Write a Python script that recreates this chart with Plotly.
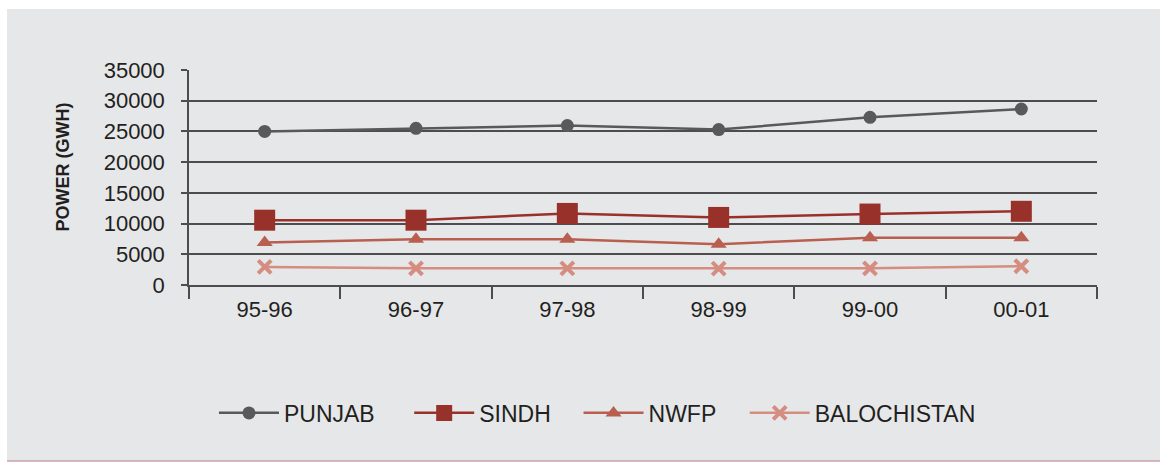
import plotly.graph_objects as go

# Fiscal years
years = ["95-96", "96-97", "97-98", "98-99", "99-00", "00-01"]

# Electricity consumption by province (GWh)
punjab = [25000, 25500, 25950, 25300, 27300, 28650]
sindh = [10550, 10550, 11650, 11000, 11550, 12000]
nwfp = [6900, 7440, 7440, 6650, 7700, 7700]
balochistan = [2950, 2720, 2720, 2680, 2720, 3050]

y_ticks = [0, 5000, 10000, 15000, 20000, 25000, 30000, 35000]

BG = "#e6e7e9"
GRID = "#4d4d4f"
FONT = "Liberation Sans, Arial, Helvetica, sans-serif"

series = [
    ("PUNJAB", punjab, "#58595b", dict(symbol="circle", size=13), 2.5),
    ("SINDH", sindh, "#99312b", dict(symbol="square", size=21), 2.5),
    ("NWFP", nwfp, "#b85f50", dict(symbol="triangle-up", size=14), 2.5),
    ("BALOCHISTAN", balochistan, "#d48d80",
     dict(symbol="x-thin", size=13, line=dict(width=4, color="#d48d80")), 2.5),
]

# one single-entry legend per series so each entry sits at its own spot
legend_ids = ["legend", "legend2", "legend3", "legend4"]
legend_x = [0.0275, 0.2425, 0.4290, 0.6120]

fig = go.Figure()
for (name, vals, color, marker, lw), lid in zip(series, legend_ids):
    m = dict(color=color, **marker)
    fig.add_trace(go.Scatter(
        x=years, y=vals, name=name, mode="lines+markers",
        line=dict(color=color, width=lw), marker=m, legend=lid,
    ))

# Framed grey panel behind the chart
fig.add_shape(type="rect", xref="paper", yref="paper",
              x0=-0.2004, x1=1.07, y0=-0.8186, y1=1.2837,
              fillcolor=BG, line=dict(width=0), layer="below")
fig.add_shape(type="line", xref="paper", yref="paper",
              x0=-0.2004, x1=1.07, y0=-0.8186, y1=-0.8186,
              line=dict(color="#c9a3ab", width=1.5))

fig.add_annotation(text="<b>POWER (GWH)</b>", xref="paper", yref="paper",
                   x=-0.139, y=0.55, textangle=-90, showarrow=False,
                   font=dict(family=FONT, size=18, color="#231f20"),
                   xanchor="center", yanchor="middle")

legend_style = dict(orientation="h", y=-0.595, xanchor="left",
                    yanchor="middle", bgcolor="rgba(0,0,0,0)",
                    font=dict(size=23), itemwidth=60)

fig.update_layout(
    width=1160, height=462,
    margin=dict(l=189, r=63, t=70, b=177),
    paper_bgcolor="white", plot_bgcolor=BG,
    font=dict(family=FONT, size=22, color="#231f20"),
    showlegend=True,
    **{lid: dict(x=lx, **legend_style) for lid, lx in zip(legend_ids, legend_x)},
)
fig.update_xaxes(
    type="category", range=[-0.5, 5.5], showgrid=False,
    showline=True, linecolor=GRID, linewidth=1.5,
    ticks="outside", tickson="boundaries", ticklen=12, tickwidth=1.5,
    tickcolor=GRID, tickfont=dict(size=22), ticklabelstandoff=4,
)
fig.update_yaxes(
    range=[0, 35000], tickvals=y_ticks, ticktext=[str(v) for v in y_ticks],
    showgrid=True, gridcolor=GRID, gridwidth=1.5, zeroline=False,
    showline=True, linecolor=GRID, linewidth=1.5,
    ticks="outside", ticklen=6, tickwidth=1.5, tickcolor=GRID,
    tickfont=dict(size=22), ticklabelstandoff=12,
)

fig.write_html("out.html")
